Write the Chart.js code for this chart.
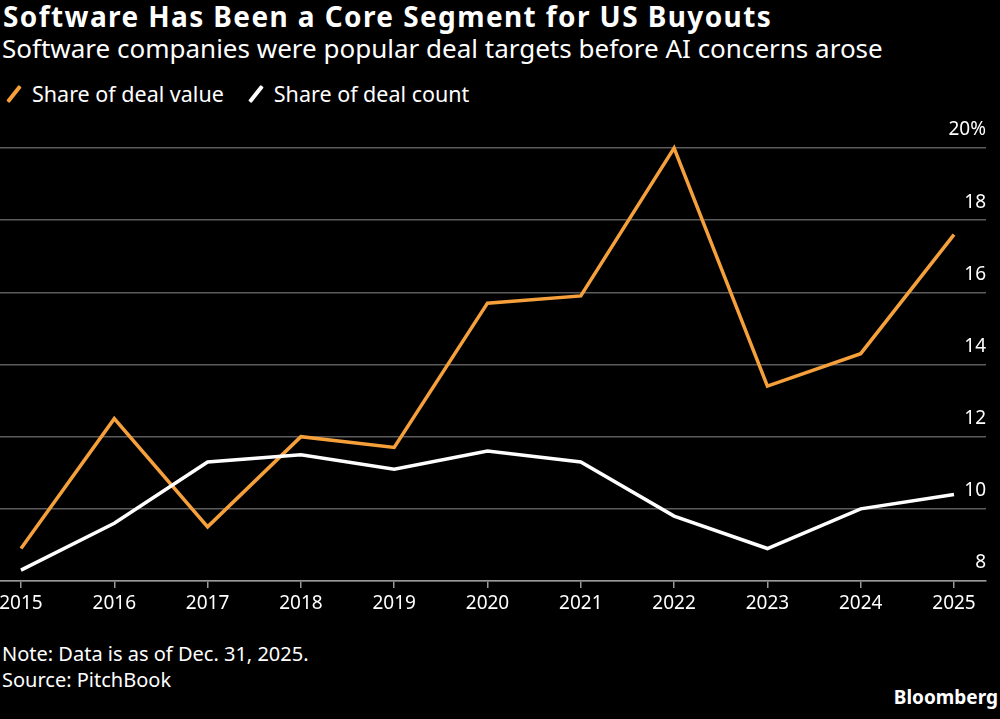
<!DOCTYPE html>
<html lang="en">
<head>
<meta charset="UTF-8">
<title>Software Has Been a Core Segment for US Buyouts</title>
<script src="https://cdn.jsdelivr.net/npm/chart.js"></script>
<style>
  body { margin: 0; background: #000; color: #fff; font-family: "Noto Sans", sans-serif; width: 1000px; height: 719px; overflow: hidden; position: relative; }
  .title { position: absolute; left: 3px; top: -3px; font-size: 28px; font-weight: bold; letter-spacing: 1.4px; white-space: nowrap; }
  .subtitle { position: absolute; left: 2px; top: 30px; font-size: 26px; white-space: nowrap; }
  .legend { position: absolute; left: 4px; top: 79px; font-size: 21.5px; display: flex; align-items: center; }
  .legend .sw { display: inline-block; width: 20px; height: 4px; transform: rotate(-52deg); margin-right: 8px; border-radius: 1px; }
  .legend .item { display: flex; align-items: center; margin-right: 22px; }
  .note { position: absolute; left: 2px; font-size: 20px; }
  .brand { position: absolute; right: 2px; top: 684px; font-size: 19px; font-weight: bold; }
  #grafica { position: absolute; left: 0; top: 110px; }
</style>
</head>
<body>
  <div class="title">Software Has Been a Core Segment for US Buyouts</div>
  <div class="subtitle">Software companies were popular deal targets before AI concerns arose</div>
  <div class="legend">
    <span class="item"><span class="sw" style="background:#f5a03a"></span>Share of deal value</span>
    <span class="item"><span class="sw" style="background:#fff"></span>Share of deal count</span>
  </div>
  <canvas id="grafica" width="1000" height="511"></canvas>
  <div class="note" style="top:640px">Note: Data is as of Dec. 31, 2025.</div>
  <div class="note" style="top:666px">Source: PitchBook</div>
  <div class="brand">Bloomberg</div>

<script>
// datos
const years = [2015, 2016, 2017, 2018, 2019, 2020, 2021, 2022, 2023, 2024, 2025];
const dealValue = [8.9, 12.5, 9.5, 12.0, 11.7, 15.7, 15.9, 20.0, 13.4, 14.3, 17.6];
const dealCount = [8.3, 9.6, 11.3, 11.5, 11.1, 11.6, 11.3, 9.8, 8.9, 10.0, 10.4];
const yTicks = [8, 10, 12, 14, 16, 18, 20];

const toPoints = vals => years.map((y, i) => ({ x: y, y: vals[i] }));

const ctx = document.getElementById('grafica').getContext('2d');
new Chart(ctx, {
  type: 'line',
  data: {
    datasets: [
      { label: 'Share of deal count', data: toPoints(dealCount), borderColor: '#ffffff', borderWidth: 3.5, pointRadius: 0, tension: 0, clip: false },
      { label: 'Share of deal value', data: toPoints(dealValue), borderColor: '#f5a03a', borderWidth: 3.5, pointRadius: 0, tension: 0, clip: false }
    ]
  },
  options: {
    responsive: false,
    animation: false,
    layout: { padding: { top: 38, right: 14, left: 0, bottom: 0 } },
    plugins: { legend: { display: false }, tooltip: { enabled: false } },
    scales: {
      x: {
        type: 'linear',
        min: 2014.775,
        max: 2025.343,
        afterBuildTicks: scale => { scale.ticks = years.map(v => ({ value: v })); },
        afterFit: scale => { scale.height = 40; scale.paddingLeft = 0; scale.paddingRight = 0; },
        grid: { drawOnChartArea: false, drawTicks: true, tickLength: 7, tickColor: '#9a9a9a', lineWidth: 1.5 },
        border: { color: '#9a9a9a', width: 1.5 },
        ticks: { color: '#ffffff', font: { family: 'Noto Sans', size: 19 }, padding: 4, maxRotation: 0, callback: v => String(v) }
      },
      y: {
        position: 'right',
        min: 8,
        max: 20,
        afterBuildTicks: scale => { scale.ticks = yTicks.map(v => ({ value: v })); },
        afterFit: scale => { scale.width = 0; },
        grid: { color: '#5c5c5c', lineWidth: 1.5, drawTicks: false },
        border: { display: false },
        ticks: {
          mirror: true, padding: 0, labelOffset: -18,
          color: '#ffffff', font: { family: 'Noto Sans', size: 19 },
          callback: v => v === 20 ? '20%' : String(v)
        }
      }
    }
  }
});
</script>
</body>
</html>
